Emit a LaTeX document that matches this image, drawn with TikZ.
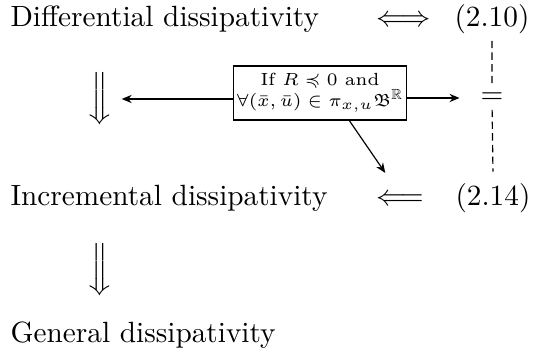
\documentclass[tikz,border=0pt]{standalone}
\usepackage{amssymb}
\usetikzlibrary{positioning,arrows.meta}

\begin{document}
\begin{tikzpicture}[x=0.3414pt,y=-0.3414pt,
    every node/.style={font=\normalsize},
    txt/.style={anchor=base west,inner sep=0pt},
    impl/.style={-{Stealth[length=3.4pt,width=2.8pt]}}]
  \useasboundingbox (0,0) rectangle (533,354);
  % first row
  \node[txt] (diff) at (10,27) {Differential dissipativity};
  \node[txt] (iff) at (376,27) {$\Longleftrightarrow$};
  \node[txt,anchor=base east] (eqa) at (530,27) {(2.10)};
  % condition box
  \node[draw,align=center,font=\fontsize{6}{7.2}\selectfont,inner xsep=1pt,inner ysep=2.5pt] (cond) at (320,93) {If $R\preccurlyeq 0$ and\\$\forall(\bar{x},\bar{u})\in\pi_{x,u}\mathfrak{B}^{\mathbb{R}}$};
  \node (downa) at (100,99) {$\Big\Downarrow$};
  \node[inner sep=2pt] (same) at (eqa.south |- 0,98) {$=$};
  % second row
  \node[txt] (incr) at (10,206) {Incremental dissipativity};
  \node[txt] (limp) at (376,206) {$\Longleftarrow$};
  \node[txt,anchor=base east] (eqb) at (531,206) {(2.14)};
  \node (downb) at (100,270) {$\Big\Downarrow$};
  \node[txt] (gen) at (10,343) {General dissipativity};
  \draw[impl] (cond.west |- downa) -- (downa);
  \draw[impl,shorten >=5pt] (cond.east |- same) -- (same);
  \draw[impl,shorten >=9pt] ([xshift=10pt]cond.south) -- (limp.north);
  \draw[dash pattern=on 2.5pt off 1.5pt] ([yshift=-2pt]eqa.south) -- (same) -- ([yshift=4pt]eqb.north);
\end{tikzpicture}
\end{document}
